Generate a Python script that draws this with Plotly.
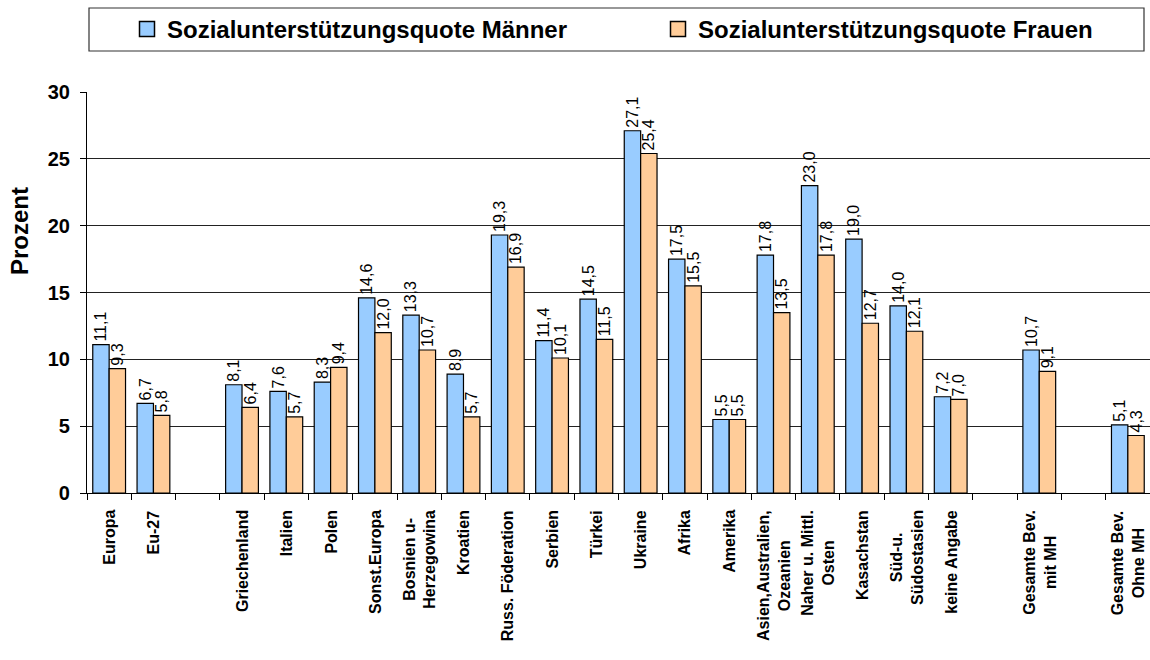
import plotly.graph_objects as go

categories = ["Europa", "Eu-27", " ", "Griechenland", "Italien", "Polen", "Sonst.Europa",
              "Bosnien u-<br>Herzegowina", "Kroatien", "Russ. Föderation", "Serbien", "Türkei",
              "Ukraine", "Afrika", "Amerika", "Asien,Australien,<br>Ozeanien",
              "Naher u. Mittl.<br>Osten", "Kasachstan", "Süd-u.<br>Südostasien", "keine Angabe",
              "  ", "Gesamte Bev.<br>mit MH", "   ", "Gesamte Bev.<br>Ohne MH"]

maenner = [11.1, 6.7, None, 8.1, 7.6, 8.3, 14.6, 13.3, 8.9, 19.3, 11.4, 14.5,
           27.1, 17.5, 5.5, 17.8, 23.0, 19.0, 14.0, 7.2, None, 10.7, None, 5.1]
frauen = [9.3, 5.8, None, 6.4, 5.7, 9.4, 12.0, 10.7, 5.7, 16.9, 10.1, 11.5,
          25.4, 15.5, 5.5, 13.5, 17.8, 12.7, 12.1, 7.0, None, 9.1, None, 4.3]

series_names = ["Sozialunterstützungsquote Männer", "Sozialunterstützungsquote Frauen"]
colors = ["#99CCFF", "#FFCC99"]
y_ticks = [0, 5, 10, 15, 20, 25, 30]

FONT = "Liberation Sans, Arial, sans-serif"

W, H = 1150, 660
L, R, T, B = 87, 0, 92, 167
pw, ph = W - L - R, H - T - B


def px_x(px):
    return (px - L) / pw


def px_y(py):
    return (H - B - py) / ph


def fmt(v):
    return "" if v is None else f"{v:.1f}".replace(".", ",")


fig = go.Figure()
legend_ids = ["legend", "legend2"]
for name, vals, col, lg in zip(series_names, [maenner, frauen], colors, legend_ids):
    fig.add_trace(go.Bar(
        x=categories, y=vals, name=name, showlegend=False,
        marker=dict(color=col, line=dict(color="#000000", width=1.2)),
        text=[fmt(v) for v in vals], textposition="outside", textangle=-90,
        textfont=dict(family=FONT, size=16, color="#000000"),
        constraintext="none", cliponaxis=False,
    ))
    # legend-only entry (square symbol sized like the reference)
    fig.add_trace(go.Scatter(
        x=[None], y=[None], mode="markers", name=name, legend=lg, showlegend=True,
        marker=dict(symbol="square", size=15, color=col, line=dict(color="#000000", width=1.5)),
    ))

legend_font = dict(family=FONT, size=24, color="#000000", weight="bold")

# category labels: rotated, lines centred on each other (as in the reference)
label_annotations = [
    dict(text=c, x=c, xref="x", y=px_y(508), yref="paper", xanchor="center", yanchor="top",
         textangle=-90, align="center", showarrow=False,
         font=dict(family=FONT, size=16, color="#000000", weight="bold"))
    for c in categories if c.strip()
]

fig.update_layout(
    width=W, height=H,
    margin=dict(l=L, r=R, t=T, b=B, autoexpand=False),
    paper_bgcolor="white", plot_bgcolor="white",
    barmode="group", bargap=0.26, bargroupgap=0,
    font=dict(family=FONT, color="#000000"),
    showlegend=True,
    legend=dict(orientation="h", x=px_x(127), xanchor="left", y=px_y(29.5), yanchor="middle",
                font=legend_font, itemsizing="trace",
                bgcolor="rgba(0,0,0,0)", borderwidth=0),
    legend2=dict(orientation="h", x=px_x(658), xanchor="left", y=px_y(29.5), yanchor="middle",
                 font=legend_font, itemsizing="trace",
                 bgcolor="rgba(0,0,0,0)", borderwidth=0),
    xaxis=dict(type="category", tickson="boundaries", ticks="outside", ticklen=6,
               tickcolor="#000000", showline=True, linecolor="#000000", linewidth=1.2,
               showticklabels=False, showgrid=False, automargin=False,
               range=[-0.5, len(categories) - 0.5]),
    yaxis=dict(range=[0, 30], tickvals=y_ticks, ticks="outside", ticklen=6,
               tickcolor="#000000", showline=True, linecolor="#000000", linewidth=1.2,
               showgrid=True, gridcolor="#222222", gridwidth=1, zeroline=False,
               tickfont=dict(family=FONT, size=20, color="#000000", weight="bold"),
               ticklabelstandoff=6, automargin=False),
    shapes=[dict(type="rect", xref="paper", yref="paper",
                 x0=px_x(89), x1=px_x(1144), y0=px_y(51), y1=px_y(8),
                 line=dict(color="#333333", width=1.2), fillcolor="rgba(0,0,0,0)")],
    annotations=[dict(text="<b>Prozent</b>", xref="paper", yref="paper",
                      x=px_x(20), y=px_y(231), xanchor="center", yanchor="middle",
                      textangle=-90, showarrow=False,
                      font=dict(family=FONT, size=24, color="#000000"))] + label_annotations,
)

fig.write_html("out.html", config={"displayModeBar": False},
               post_script="document.body.style.margin='0';document.body.style.overflow='hidden';")
